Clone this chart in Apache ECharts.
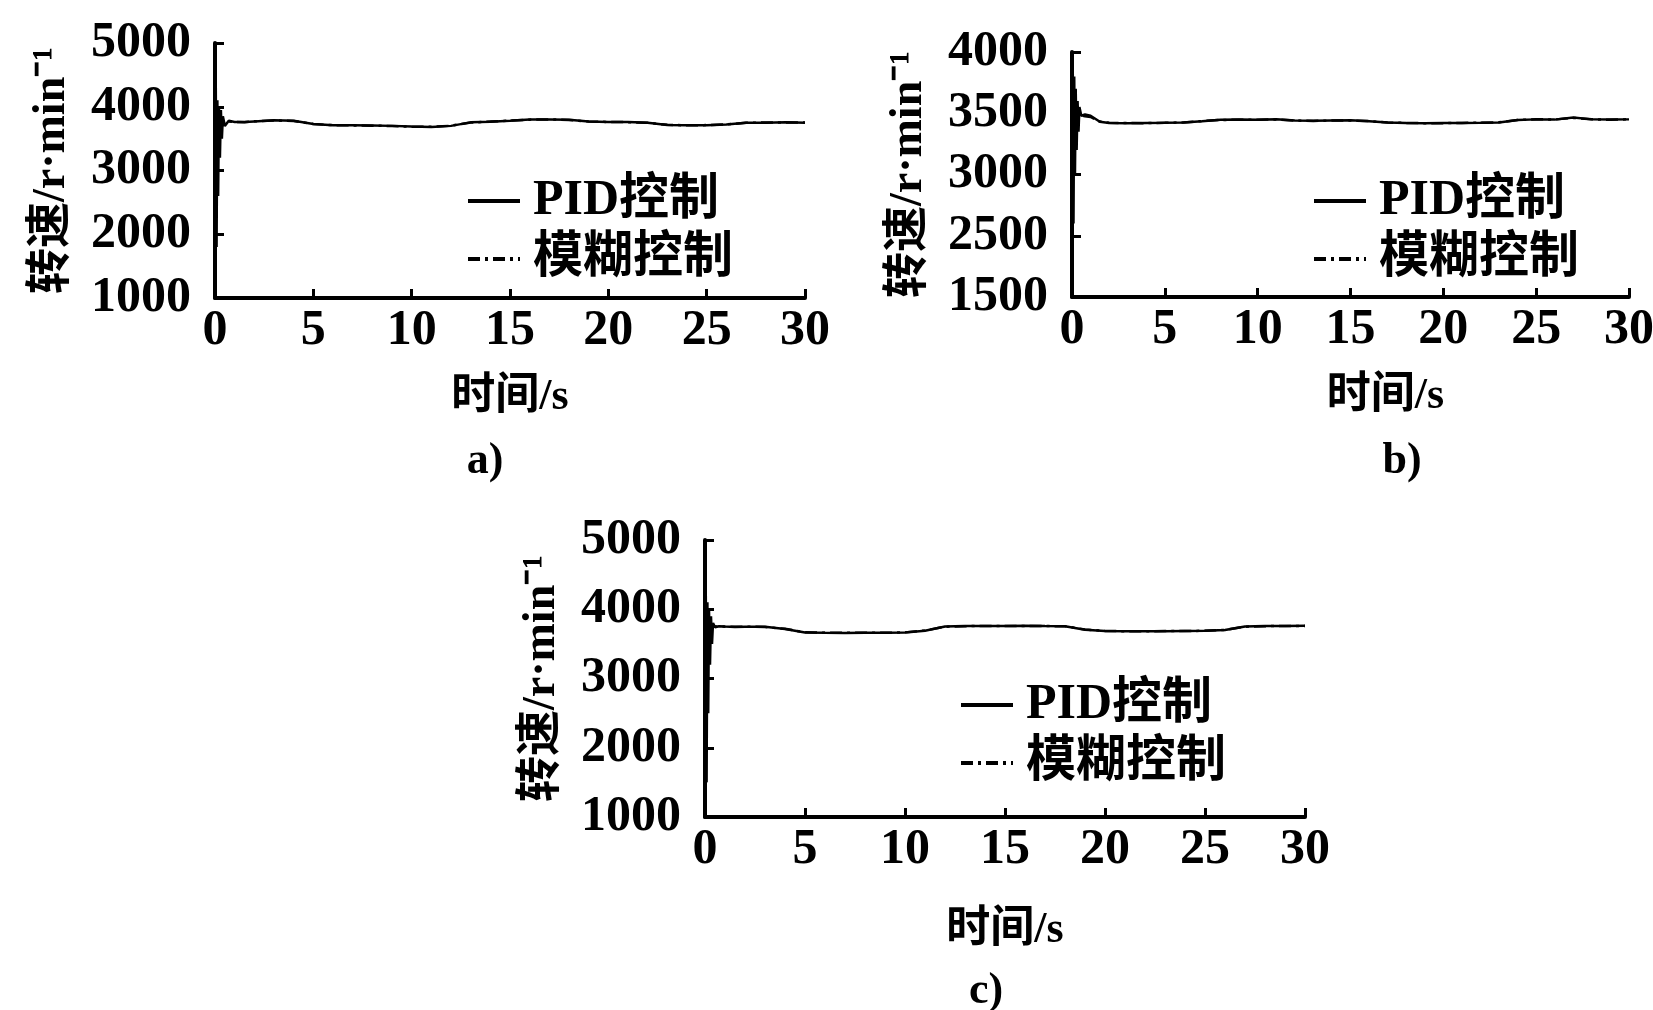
<!DOCTYPE html>
<html>
<head>
<meta charset="utf-8">
<script src="https://cdn.jsdelivr.net/npm/echarts@6/dist/echarts.min.js"></script>
<style>
html,body{margin:0;padding:0;background:#fff;}
#chart{width:1653px;height:1010px;}
</style>
</head>
<body>
<div id="chart"></div>
<script>
// ---------------- data ----------------
const timeS = [0, 0.04, 0.08, 0.12, 0.16, 0.2, 0.25, 0.3, 0.35, 0.4,
  0.5, 0.7, 1, 1.5, 2,
  3, 4, 5, 6, 7, 8, 9, 10, 11, 12, 13, 14, 15, 16, 17, 18, 19, 20, 21, 22, 23, 24, 25, 26, 27, 28, 29, 30];

// panel a)
const pidA = [1000, 4300, 1800, 4100, 2600, 4000, 3200, 3950, 3500, 3850,
  3700, 3780, 3760, 3760, 3770,
  3787, 3780, 3730, 3710, 3710, 3705, 3700, 3690, 3684, 3700, 3755, 3765, 3780, 3800, 3800, 3795, 3770, 3760, 3760, 3750, 3715, 3710, 3710, 3720, 3750, 3750, 3755, 3750];
const fuzzyA = [1000, 2800, 3900, 3600, 3820, 3700, 3780, 3740, 3760, 3750,
  3755, 3770, 3762, 3758, 3772,
  3785, 3778, 3728, 3712, 3708, 3703, 3698, 3688, 3686, 3702, 3752, 3768, 3782, 3798, 3802, 3793, 3768, 3762, 3758, 3748, 3717, 3708, 3712, 3722, 3748, 3752, 3753, 3752];

// panel b)
const pidB = [2000, 3900, 2600, 3800, 3000, 3700, 3200, 3600, 3350, 3550,
  3480, 3490, 3480, 3430, 3420,
  3418, 3420, 3422, 3425, 3435, 3446, 3448, 3446, 3452, 3440, 3438, 3440, 3442, 3435, 3425, 3420, 3418, 3420, 3420, 3422, 3425, 3445, 3450, 3448, 3465, 3450, 3448, 3450];
const fuzzyB = [2000, 3300, 3650, 3420, 3560, 3460, 3510, 3480, 3495, 3485,
  3482, 3475, 3470, 3432, 3422,
  3420, 3419, 3423, 3424, 3436, 3445, 3447, 3447, 3450, 3441, 3437, 3441, 3441, 3436, 3424, 3421, 3419, 3419, 3421, 3423, 3426, 3444, 3451, 3449, 3462, 3451, 3447, 3451];

// panel c)
const pidC = [1000, 4200, 1500, 4100, 2500, 4000, 3200, 3900, 3500, 3800,
  3740, 3755, 3750, 3745, 3748,
  3747, 3715, 3665, 3660, 3658, 3660, 3660, 3665, 3690, 3750, 3757, 3757, 3758, 3760, 3757, 3755, 3705, 3686, 3684, 3682, 3684, 3686, 3688, 3700, 3750, 3757, 3757, 3760];
const fuzzyC = [1000, 3000, 4050, 3500, 3850, 3650, 3800, 3720, 3760, 3745,
  3750, 3752, 3748, 3746, 3749,
  3745, 3717, 3667, 3661, 3659, 3661, 3659, 3666, 3692, 3748, 3756, 3758, 3757, 3759, 3758, 3754, 3707, 3687, 3683, 3683, 3685, 3685, 3689, 3702, 3748, 3756, 3758, 3759];

const yTicksA = ['1000', '2000', '3000', '4000', '5000'];
const yTicksB = ['1500', '2500', '3000', '3500', '4000']; // bottom label reads 1500 in the figure
const yTicksC = ['1000', '2000', '3000', '4000', '5000'];
const xTicks = ['0', '5', '10', '15', '20', '25', '30'];

const seriesNames = ['PID控制', '模糊控制'];
const xName = '时间/s';
const yName = '转速/r·min⁻¹';
const captions = ['a)', 'b)', 'c)'];

// ---------------- chart ----------------
const FONT = "'Liberation Serif','Noto Sans CJK SC',serif";
const pair = (arr) => timeS.map((t, i) => [t, arr[i]]);

const grids = [
  {left: 215, top: 43, width: 590, height: 255},
  {left: 1072, top: 52, width: 557, height: 245},
  {left: 705, top: 540, width: 600, height: 277}
];
const yRanges = [
  {min: 1000, max: 5000, interval: 1000, labels: yTicksA},
  {min: 2000, max: 4000, interval: 500, labels: yTicksB},
  {min: 1000, max: 5000, interval: 1000, labels: yTicksC}
];
const xNameGap = [78, 78, 92];
const xNamePad = [[0,0,0,0],[0,0,0,70],[0,0,0,0]];

const axisLine = {show: true, onZero: false, lineStyle: {color: '#000', width: 4}};
const axisTick = {show: true, inside: true, length: 9, lineStyle: {color: '#000', width: 3}};

const option = {
  backgroundColor: '#fff',
  animation: false,
  grid: grids.map(g => Object.assign({outerBoundsMode: 'none', containLabel: false}, g)),
  xAxis: grids.map((g, i) => ({
    type: 'value', gridIndex: i, min: 0, max: 30, interval: 5,
    axisLine, axisTick, splitLine: {show: false},
    axisLabel: {color: '#000', fontFamily: FONT, fontSize: 50, fontWeight: 'bold', margin: 8,
      formatter: v => xTicks[Math.round(v / 5)]},
    name: xName, nameLocation: 'middle', nameGap: xNameGap[i],
    nameTextStyle: {color: '#000', fontFamily: FONT, fontSize: 44, fontWeight: 'bold', padding: xNamePad[i]}
  })),
  yAxis: grids.map((g, i) => ({
    type: 'value', gridIndex: i, min: yRanges[i].min, max: yRanges[i].max, interval: yRanges[i].interval,
    axisLine, axisTick, splitLine: {show: false},
    axisLabel: {color: '#000', fontFamily: FONT, fontSize: 50, fontWeight: 'bold', margin: 24,
      formatter: v => yRanges[i].labels[Math.round((v - yRanges[i].min) / yRanges[i].interval)]},
    name: yName, nameLocation: 'middle', nameRotate: 90, nameGap: 140,
    nameTextStyle: {color: '#000', fontFamily: FONT, fontSize: 46, fontWeight: 'bold'}
  })),
  legend: [
    {left: 461, top: 170},
    {left: 1307, top: 170},
    {left: 954, top: 674}
  ].map(p => Object.assign({
    data: seriesNames, orient: 'vertical', selectedMode: false,
    itemWidth: 52, itemHeight: 14, itemGap: 6,
    itemStyle: {opacity: 0},
    lineStyle: {width: 4},
    textStyle: {color: '#000', fontFamily: FONT, fontSize: 50, fontWeight: 'bold', lineHeight: 52, padding: [0, 0, 0, 8]}
  }, p)),
  graphic: [
    {type: 'text', x: 485, y: 440, style: {text: captions[0], fill: '#000', font: "bold 44px 'Liberation Serif'", textAlign: 'center'}},
    {type: 'text', x: 1402, y: 440, style: {text: captions[1], fill: '#000', font: "bold 44px 'Liberation Serif'", textAlign: 'center'}},
    {type: 'text', x: 986, y: 970, style: {text: captions[2], fill: '#000', font: "bold 44px 'Liberation Serif'", textAlign: 'center'}}
  ],
  series: []
};

const sets = [[pidA, fuzzyA], [pidB, fuzzyB], [pidC, fuzzyC]];
sets.forEach((s, i) => {
  option.series.push({
    name: seriesNames[1], type: 'line', xAxisIndex: i, yAxisIndex: i,
    data: pair(s[1]), symbol: 'none', clip: true,
    lineStyle: {color: '#000', width: 2.5, type: [12, 5, 3, 5]}, itemStyle: {color: '#000'}
  });
  option.series.push({
    name: seriesNames[0], type: 'line', xAxisIndex: i, yAxisIndex: i,
    data: pair(s[0]), symbol: 'none', clip: true,
    lineStyle: {color: '#000', width: 2.5, type: 'solid'}, itemStyle: {color: '#000'}
  });
});

const chart = echarts.init(document.getElementById('chart'), null, {renderer: 'canvas'});
chart.setOption(option);
</script>
</body>
</html>
